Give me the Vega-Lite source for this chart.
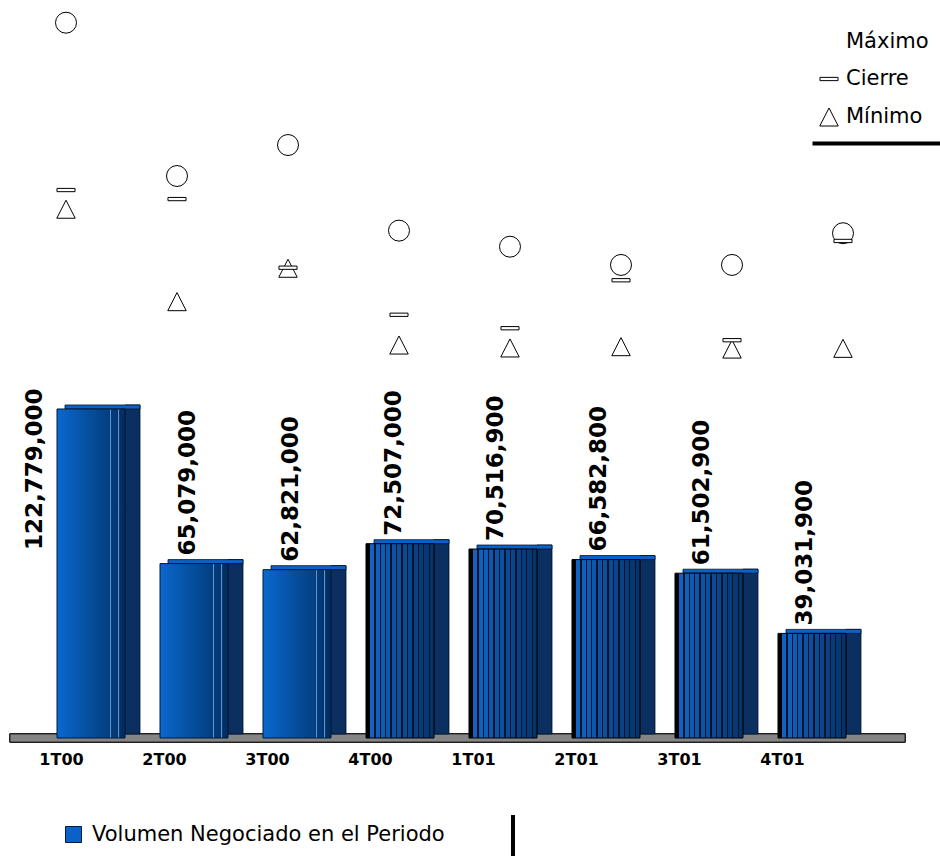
{
  "$schema": "https://vega.github.io/schema/vega-lite/v6.json",
  "width": 940,
  "height": 738,
  "autosize": {"type": "none"},
  "padding": {"left": 0, "top": 0, "right": 0, "bottom": 118},
  "background": "white",
  "config": {
    "view": {"stroke": null},
    "font": "DejaVu Sans",
    "legend": {"labelLimit": 600}
  },
  "datasets": {
    "volumen": [
      {"periodo": "1T00", "volumen": 122779000},
      {"periodo": "2T00", "volumen": 65079000},
      {"periodo": "3T00", "volumen": 62821000},
      {"periodo": "4T00", "volumen": 72507000},
      {"periodo": "1T01", "volumen": 70516900},
      {"periodo": "2T01", "volumen": 66582800},
      {"periodo": "3T01", "volumen": 61502900},
      {"periodo": "4T01", "volumen": 39031900}
    ],
    "precios": [
      {"periodo": "1T00", "serie": "Máximo", "precio": 38.77},
      {"periodo": "2T00", "serie": "Máximo", "precio": 30.46},
      {"periodo": "3T00", "serie": "Máximo", "precio": 32.14},
      {"periodo": "4T00", "serie": "Máximo", "precio": 27.50},
      {"periodo": "1T01", "serie": "Máximo", "precio": 26.63},
      {"periodo": "2T01", "serie": "Máximo", "precio": 25.64},
      {"periodo": "3T01", "serie": "Máximo", "precio": 25.64},
      {"periodo": "4T01", "serie": "Máximo", "precio": 27.36},
      {"periodo": "1T00", "serie": "Mínimo", "precio": 28.66},
      {"periodo": "2T00", "serie": "Mínimo", "precio": 23.65},
      {"periodo": "3T00", "serie": "Mínimo", "precio": 25.46},
      {"periodo": "4T00", "serie": "Mínimo", "precio": 21.30},
      {"periodo": "1T01", "serie": "Mínimo", "precio": 21.14},
      {"periodo": "2T01", "serie": "Mínimo", "precio": 21.21},
      {"periodo": "3T01", "serie": "Mínimo", "precio": 21.08},
      {"periodo": "4T01", "serie": "Mínimo", "precio": 21.12},
      {"periodo": "1T00", "serie": "Cierre", "precio": 29.70},
      {"periodo": "2T00", "serie": "Cierre", "precio": 29.21},
      {"periodo": "3T00", "serie": "Cierre", "precio": 25.49},
      {"periodo": "4T00", "serie": "Cierre", "precio": 22.94},
      {"periodo": "1T01", "serie": "Cierre", "precio": 22.21},
      {"periodo": "2T01", "serie": "Cierre", "precio": 24.81},
      {"periodo": "3T01", "serie": "Cierre", "precio": 21.56},
      {"periodo": "4T01", "serie": "Cierre", "precio": 26.94}
    ]
  },
  "layer": [
    {
      "data": {"name": "precios"},
      "layer": [
        {
          "mark": {"type": "rect", "fill": "#858585", "stroke": "#222222", "strokeWidth": 1, "xOffset": -56, "x2Offset": 62},
          "encoding": {
            "x": {"datum": "1T00", "type": "nominal",
                  "scale": {"type": "point", "domain": ["1T00", "2T00", "3T00", "4T00", "1T01", "2T01", "3T01", "4T01"], "range": [66, 843], "padding": 0},
                  "axis": null},
            "x2": {"datum": "4T01"},
            "y": {"datum": 0.22, "type": "quantitative", "scale": {"domain": [0, 40], "nice": false, "zero": false}, "axis": null},
            "y2": {"datum": -0.22}
          }
        },
        {
          "transform": [{"filter": {"field": "serie", "equal": "Máximo"}}],
          "mark": {"type": "point", "shape": "circle", "filled": true, "fill": "white", "stroke": "black", "strokeWidth": 1, "size": 440, "opacity": 1},
          "encoding": {
            "x": {"field": "periodo", "type": "nominal", "sort": null,
                  "scale": {"type": "point", "domain": ["1T00", "2T00", "3T00", "4T00", "1T01", "2T01", "3T01", "4T01"], "range": [66, 843], "padding": 0},
                  "axis": null},
            "y": {"field": "precio", "type": "quantitative", "scale": {"domain": [0, 40], "nice": false, "zero": false}, "axis": null}
          }
        },
        {
          "transform": [{"filter": {"not": {"field": "serie", "equal": "Máximo"}}}],
          "mark": {"type": "point", "filled": true, "fill": "white", "strokeWidth": 1, "size": 420, "opacity": 1},
          "encoding": {
            "x": {"field": "periodo", "type": "nominal", "sort": null,
                  "scale": {"type": "point", "domain": ["1T00", "2T00", "3T00", "4T00", "1T01", "2T01", "3T01", "4T01"], "range": [66, 843], "padding": 0},
                  "axis": null},
            "y": {"field": "precio", "type": "quantitative", "scale": {"domain": [0, 40], "nice": false, "zero": false}, "axis": null},
            "shape": {"field": "serie", "type": "nominal",
                      "scale": {"domain": ["Máximo", "Cierre", "Mínimo"],
                                "range": ["M0,0Z", "M-0.88,-0.16H0.88V0.16H-0.88Z", "M0,-0.88L0.9,0.88L-0.9,0.88Z"]},
                      "legend": {"orient": "none", "legendX": 802, "legendY": 15, "title": null, "padding": 16,
                                 "symbolSize": 420, "symbolStrokeWidth": 1, "symbolOpacity": 1,
                                 "labelFont": "DejaVu Sans", "labelFontSize": 21, "labelColor": "black", "labelOffset": 6, "rowPadding": 16}},
            "stroke": {"field": "serie", "type": "nominal",
                       "scale": {"domain": ["Máximo", "Cierre", "Mínimo"], "range": ["black", "black", "black"]},
                       "legend": {"orient": "none", "legendX": 802, "legendY": 15, "title": null, "padding": 16,
                                  "symbolSize": 420, "symbolStrokeWidth": 1, "symbolOpacity": 1,
                                  "labelFont": "DejaVu Sans", "labelFontSize": 21, "labelColor": "black", "labelOffset": 6, "rowPadding": 16}}
          }
        }
      ]
    },
    {
      "data": {"name": "volumen"},
      "layer": [
        {
          "mark": {"type": "bar", "width": 15, "xOffset": 34, "yOffset": -4, "color": "#0a2f60", "stroke": "#001228", "strokeWidth": 0.8},
          "encoding": {
            "x": {"field": "periodo", "type": "nominal", "sort": null,
                  "scale": {"domain": ["1T00", "2T00", "3T00", "4T00", "1T01", "2T01", "3T01", "4T01"], "range": [57, 861], "paddingInner": 0.194, "paddingOuter": 0},
                  "axis": {"title": null, "domain": false, "ticks": false, "labelAngle": 0, "labelFont": "DejaVu Sans", "labelFontWeight": "bold", "labelFontSize": 16, "labelColor": "black", "labelPadding": 13, "labelOffset": -37}},
            "y": {"field": "volumen", "type": "quantitative", "scale": {"domain": [0, 275400000], "nice": false}, "axis": null}
          }
        },
        {
          "mark": {"type": "tick", "orient": "horizontal", "thickness": 4, "size": 75, "xOffset": 4, "yOffset": -2, "stroke": "#001228", "strokeWidth": 0.8, "opacity": 1},
          "encoding": {
            "x": {"field": "periodo", "type": "nominal", "sort": null,
                  "scale": {"domain": ["1T00", "2T00", "3T00", "4T00", "1T01", "2T01", "3T01", "4T01"], "range": [57, 861], "paddingInner": 0.194, "paddingOuter": 0}},
            "y": {"field": "volumen", "type": "quantitative", "scale": {"domain": [0, 275400000], "nice": false}, "axis": null},
            "color": {"datum": "Volumen Negociado en el Periodo", "type": "nominal",
                      "scale": {"range": ["#0a62c8"]},
                      "legend": {"orient": "none", "legendX": -5, "legendY": 756, "title": null, "padding": 68,
                                 "symbolType": "square", "symbolSize": 256, "symbolStrokeColor": "#001a40", "symbolStrokeWidth": 1, "symbolOpacity": 1,
                                 "labelFont": "DejaVu Sans", "labelFontSize": 21, "labelColor": "black", "labelOffset": 8,
                                 "encode": {
                                   "legend": {"update": {"stroke": {"value": "black"}, "strokeWidth": {"value": 4}, "strokeDash": {"value": [0, 577, 2000]}}}
                                 }}}
          }
        },
        {
          "transform": [{"filter": {"field": "periodo", "oneOf": ["1T00", "2T00", "3T00"]}}],
          "mark": {"type": "bar", "width": 68, "xOffset": -7.5, "stroke": "#001a3a", "strokeWidth": 1,
                   "fill": {"gradient": "linear", "x1": 0, "y1": 0, "x2": 1, "y2": 0,
                            "stops": [
                              {"offset": 0, "color": "#0a68d0"},
                              {"offset": 0.45, "color": "#05509f"},
                              {"offset": 0.78, "color": "#033e80"},
                              {"offset": 0.785, "color": "#6f9fd6"},
                              {"offset": 0.8, "color": "#033c7c"},
                              {"offset": 0.9, "color": "#02356f"},
                              {"offset": 0.905, "color": "#6f9fd6"},
                              {"offset": 0.92, "color": "#023268"},
                              {"offset": 1, "color": "#022c5e"}
                            ]}},
          "encoding": {
            "x": {"field": "periodo", "type": "nominal", "sort": null,
                  "scale": {"domain": ["1T00", "2T00", "3T00", "4T00", "1T01", "2T01", "3T01", "4T01"], "range": [57, 861], "paddingInner": 0.194, "paddingOuter": 0}},
            "y": {"field": "volumen", "type": "quantitative", "scale": {"domain": [0, 275400000], "nice": false}, "axis": null}
          }
        },
        {
          "transform": [{"filter": {"field": "periodo", "oneOf": ["4T00", "1T01", "2T01", "3T01", "4T01"]}}],
          "mark": {"type": "bar", "width": 68, "xOffset": -7.5, "stroke": "#000000", "strokeWidth": 1,
                   "fill": {"gradient": "linear", "x1": 0, "y1": 0, "x2": 1, "y2": 0,
                            "stops": [
                              {"offset": 0, "color": "#000000"},
                              {"offset": 0.06, "color": "#000000"},
                              {"offset": 0.06, "color": "#1262c2"},
                              {"offset": 0.12, "color": "#1262c2"},
                              {"offset": 0.12, "color": "#041428"},
                              {"offset": 0.14, "color": "#041428"},
                              {"offset": 0.14, "color": "#1060be"},
                              {"offset": 0.20, "color": "#1060be"},
                              {"offset": 0.20, "color": "#041428"},
                              {"offset": 0.22, "color": "#041428"},
                              {"offset": 0.22, "color": "#0e5cb6"},
                              {"offset": 0.28, "color": "#0e5cb6"},
                              {"offset": 0.28, "color": "#041428"},
                              {"offset": 0.30, "color": "#041428"},
                              {"offset": 0.30, "color": "#0d58ae"},
                              {"offset": 0.36, "color": "#0d58ae"},
                              {"offset": 0.36, "color": "#041428"},
                              {"offset": 0.38, "color": "#041428"},
                              {"offset": 0.38, "color": "#0c53a6"},
                              {"offset": 0.44, "color": "#0c53a6"},
                              {"offset": 0.44, "color": "#041428"},
                              {"offset": 0.46, "color": "#041428"},
                              {"offset": 0.46, "color": "#0b4f9e"},
                              {"offset": 0.52, "color": "#0b4f9e"},
                              {"offset": 0.52, "color": "#041428"},
                              {"offset": 0.54, "color": "#041428"},
                              {"offset": 0.54, "color": "#0a4a96"},
                              {"offset": 0.60, "color": "#0a4a96"},
                              {"offset": 0.60, "color": "#041428"},
                              {"offset": 0.62, "color": "#041428"},
                              {"offset": 0.62, "color": "#09458d"},
                              {"offset": 0.68, "color": "#09458d"},
                              {"offset": 0.68, "color": "#041428"},
                              {"offset": 0.70, "color": "#041428"},
                              {"offset": 0.70, "color": "#084185"},
                              {"offset": 0.76, "color": "#084185"},
                              {"offset": 0.76, "color": "#041428"},
                              {"offset": 0.78, "color": "#041428"},
                              {"offset": 0.78, "color": "#073c7c"},
                              {"offset": 0.84, "color": "#073c7c"},
                              {"offset": 0.84, "color": "#041428"},
                              {"offset": 0.86, "color": "#041428"},
                              {"offset": 0.86, "color": "#063874"},
                              {"offset": 0.92, "color": "#063874"},
                              {"offset": 0.92, "color": "#041428"},
                              {"offset": 0.94, "color": "#041428"},
                              {"offset": 0.94, "color": "#05346c"},
                              {"offset": 1, "color": "#05346c"}
                            ]}},
          "encoding": {
            "x": {"field": "periodo", "type": "nominal", "sort": null,
                  "scale": {"domain": ["1T00", "2T00", "3T00", "4T00", "1T01", "2T01", "3T01", "4T01"], "range": [57, 861], "paddingInner": 0.194, "paddingOuter": 0}},
            "y": {"field": "volumen", "type": "quantitative", "scale": {"domain": [0, 275400000], "nice": false}, "axis": null}
          }
        },
        {
          "transform": [{"filter": {"not": {"field": "periodo", "equal": "1T00"}}}],
          "mark": {"type": "text", "angle": 270, "align": "left", "baseline": "middle", "font": "DejaVu Sans", "fontWeight": "bold", "fontSize": 23, "color": "black", "xOffset": -14, "yOffset": -8},
          "encoding": {
            "x": {"field": "periodo", "type": "nominal", "sort": null,
                  "scale": {"domain": ["1T00", "2T00", "3T00", "4T00", "1T01", "2T01", "3T01", "4T01"], "range": [57, 861], "paddingInner": 0.194, "paddingOuter": 0}},
            "y": {"field": "volumen", "type": "quantitative", "scale": {"domain": [0, 275400000], "nice": false}, "axis": null},
            "text": {"field": "volumen", "type": "quantitative", "format": ","}
          }
        },
        {
          "transform": [{"filter": {"field": "periodo", "equal": "1T00"}}],
          "mark": {"type": "text", "angle": 270, "align": "left", "baseline": "middle", "font": "DejaVu Sans", "fontWeight": "bold", "fontSize": 23, "color": "black", "xOffset": -64, "yOffset": 141},
          "encoding": {
            "x": {"field": "periodo", "type": "nominal", "sort": null,
                  "scale": {"domain": ["1T00", "2T00", "3T00", "4T00", "1T01", "2T01", "3T01", "4T01"], "range": [57, 861], "paddingInner": 0.194, "paddingOuter": 0}},
            "y": {"field": "volumen", "type": "quantitative", "scale": {"domain": [0, 275400000], "nice": false}, "axis": null},
            "text": {"field": "volumen", "type": "quantitative", "format": ","}
          }
        }
      ]
    },
    {
      "data": {"values": [{"borde": 0}]},
      "mark": {"type": "point", "opacity": 0},
      "encoding": {
        "x": {"field": "borde", "type": "quantitative",
              "scale": {"domain": [0, 1], "range": [812, 940]},
              "axis": {"orient": "top", "offset": -143, "domain": true, "domainWidth": 4, "domainColor": "black", "domainCap": "butt", "labels": false, "ticks": false, "grid": false, "title": null}}
      }
    }
  ],
  "resolve": {"scale": {"x": "independent", "y": "independent"}, "axis": {"x": "independent"}}
}
